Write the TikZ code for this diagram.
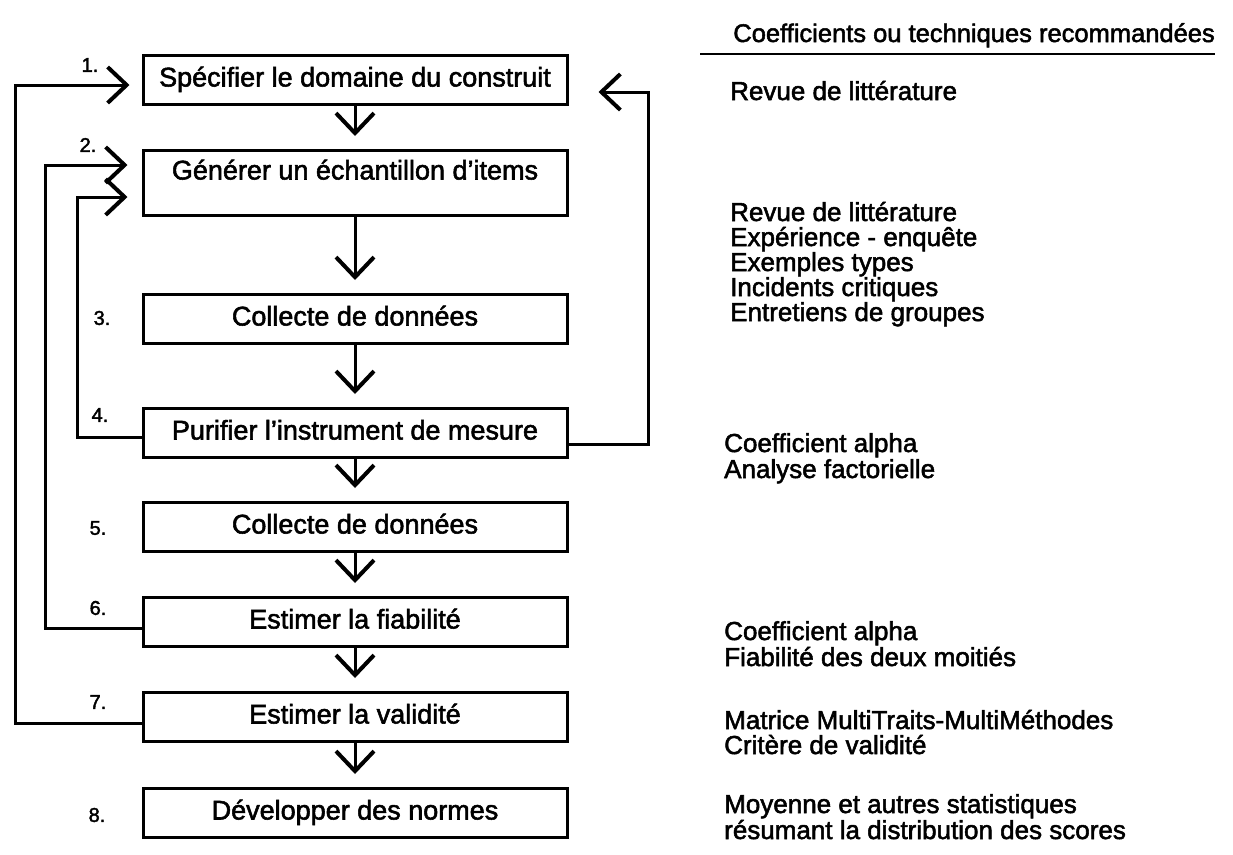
\documentclass[tikz,border=0pt]{standalone}
\usepackage{fontspec}
\setmainfont{Liberation Sans}[FakeBold=2]
\usetikzlibrary{arrows.meta}

\begin{document}
\begin{tikzpicture}[x=1pt,y=-1pt,
  etape/.style={draw,line width=3pt,minimum width=424pt,minimum height=49pt,inner sep=0pt,text height=19pt,text depth=6pt,font=\fontsize{27}{30}\selectfont},
  num/.style={font=\fontsize{20}{22}\selectfont},
  tech/.style={anchor=base west,inner sep=0pt,font=\fontsize{26}{28}\selectfont},
  fleche/.style={line width=3pt,-{Straight Barb[length=20pt,width=38pt,line width=4pt]}},
  boucle/.style={line width=3pt,-{Straight Barb[length=19pt,width=36pt,line width=4pt]}}]
\useasboundingbox (0,0) rectangle (1233,854);
\node[etape] (b1) at (355,80) {Spécifier le domaine du construit} ;
\node[etape,minimum height=65pt,text depth=26pt] (b2) at (355,183) {Générer un échantillon d'items} ;
\node[etape] (b3) at (355,319) {Collecte de données} ;
\node[etape] (b4) at (355,433) {Purifier l'instrument de mesure} ;
\node[etape] (b5) at (355,527) {Collecte de données} ;
\node[etape] (b6) at (355,622) {Estimer la fiabilité} ;
\node[etape] (b7) at (355,717) {Estimer la validité} ;
\node[etape] (b8) at (355,813) {Développer des normes} ;
\node[num] (n1) at (90,65) {1.} ;
\node[num] (n2) at (88,145) {2.} ;
\node[num] (n3) at (102,318) {3.} ;
\node[num] (n4) at (100,415) {4.} ;
\node[num] (n5) at (98,528) {5.} ;
\node[num] (n6) at (98,608) {6.} ;
\node[num] (n7) at (98,702) {7.} ;
\node[num] (n8) at (97,815) {8.} ;
\draw[fleche] (b1) to ([yshift=13pt]b2.north) ;
\draw[fleche] (b2) to ([yshift=13pt]b3.north) ;
\draw[fleche] (b3) to ([yshift=13pt]b4.north) ;
\draw[fleche] (b4) to ([yshift=13pt]b5.north) ;
\draw[fleche] (b5) to ([yshift=13pt]b6.north) ;
\draw[fleche] (b6) to ([yshift=13pt]b7.north) ;
\draw[fleche] (b7) to ([yshift=13pt]b8.north) ;
\draw[boucle] ([yshift=-6pt]b7.west) -- ++(-126,0) |- ([xshift=-12pt,yshift=-5pt]b1.west) ;
\draw[boucle] ([yshift=-6pt]b6.west) -- ++(-96,0) |- ([xshift=-14pt,yshift=18pt]b2.west) ;
\draw[boucle] ([yshift=-4pt]b4.west) -- ++(-64,0) |- ([xshift=-14pt,yshift=-14pt]b2.west) ;
\draw[boucle] ([yshift=-11pt]b4.east) -- ++(80,0) |- ([xshift=30pt,yshift=-12pt]b1.east) ;
\node[tech,anchor=base east,font=\fontsize{25.5}{28}\selectfont] (titre) at (1215,42) {Coefficients ou techniques recommandées} ;
\draw[line width=2.5pt] (700,54) -- (1215,54) ;
\node[tech] (r1) at (730,100) {Revue de littérature} ;
\node[tech] (r2a) at (730,221) {Revue de littérature} ;
\node[tech] (r2b) at (730,246) {Expérience - enquête} ;
\node[tech] (r2c) at (730,271) {Exemples types} ;
\node[tech] (r2d) at (730,296) {Incidents critiques} ;
\node[tech] (r2e) at (730,321) {Entretiens de groupes} ;
\node[tech] (r4a) at (724,452) {Coefficient alpha} ;
\node[tech] (r4b) at (724,478) {Analyse factorielle} ;
\node[tech] (r6a) at (724,640) {Coefficient alpha} ;
\node[tech] (r6b) at (724,666) {Fiabilité des deux moitiés} ;
\node[tech] (r7a) at (724,729) {Matrice MultiTraits-MultiMéthodes} ;
\node[tech] (r7b) at (724,754) {Critère de validité} ;
\node[tech] (r8a) at (724,813) {Moyenne et autres statistiques} ;
\node[tech] (r8b) at (724,839) {résumant la distribution des scores} ;
\end{tikzpicture}
\end{document}
